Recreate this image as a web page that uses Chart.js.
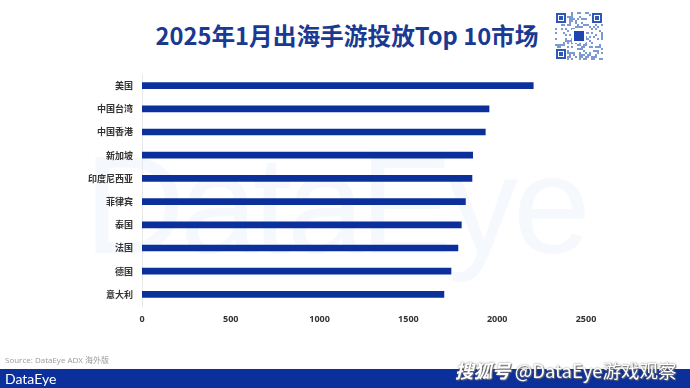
<!DOCTYPE html>
<html>
<head>
<meta charset="utf-8">
<script src="https://cdn.jsdelivr.net/npm/chart.js@4"></script>
<style>
  html,body{margin:0;padding:0;background:#fff;}
  #wrap{position:relative;width:690px;height:388px;overflow:hidden;background:#fff;font-family:"Noto Sans CJK SC","Noto Sans",sans-serif;}
  #bgmark{position:absolute;left:84px;top:135px;font-family:"Liberation Sans",sans-serif;font-size:140px;line-height:1;color:#f5f8fd;letter-spacing:-5px;}
  #title{position:absolute;left:0;width:694px;top:18px;text-align:center;font-size:23.7px;font-weight:bold;color:#1a3a92;line-height:34px;}
  #qr{position:absolute;left:555px;top:12px;width:48px;height:48px;}
  #c{position:absolute;left:0;top:0;}
  #source{position:absolute;left:5px;top:354px;font-size:8px;color:#9a9a9a;font-family:"Open Sans","Noto Sans CJK SC",sans-serif;}
  #band{position:absolute;left:0;top:369px;width:690px;height:19px;background:#0b2f9b;}
  #brand{position:absolute;left:5px;top:369px;font-size:14px;line-height:20px;color:#fff;font-family:"Lato","Noto Sans",sans-serif;}
  #wm{position:absolute;left:455px;top:357px;font-size:18.5px;line-height:26px;color:#fff;text-shadow:0 0 2px #777,1px 1px 1px #666;font-family:"Noto Sans CJK SC",sans-serif;white-space:nowrap;}
</style>
</head>
<body>
<div id="wrap">
  <div id="bgmark">DataEye</div>
  <div id="title">2025年1月出海手游投放Top 10市场</div>
  <canvas id="qr" width="48" height="48"></canvas>
  <canvas id="c" width="690" height="388"></canvas>
  <div id="source">Source: DataEye ADX 海外版</div>
  <div id="band"></div>
  <div id="brand">DataEye</div>
  <div id="wm"><b><i>搜狐号</i></b> @DataEye游戏观察</div>
</div>
<script>
const categories = ["美国","中国台湾","中国香港","新加坡","印度尼西亚","菲律宾","泰国","法国","德国","意大利"];
const values = [2203,1954,1933,1862,1858,1821,1798,1779,1740,1700];
const xTicks = [0,500,1000,1500,2000,2500];

// decorative QR-like mark
(function(){
  const q=document.getElementById('qr').getContext('2d');
  q.fillStyle='#fff';q.fillRect(0,0,48,48);
  let s=7;
  for(let y=0;y<24;y++)for(let x=0;x<24;x++){s=(s*1103515245+12345)&0x7fffffff;if(s%3===0){q.fillStyle='#7d99d3';q.fillRect(x*2,y*2,2,2);}}
  function finder(x,y){q.fillStyle='#fff';q.fillRect(x-1,y-1,12,12);q.fillStyle='#2e58b8';q.fillRect(x,y,10,10);q.fillStyle='#fff';q.fillRect(x+2,y+2,6,6);q.fillStyle='#2e58b8';q.fillRect(x+3,y+3,4,4);}
  finder(1,1);finder(37,1);finder(1,37);
  q.fillStyle='#fff';q.fillRect(17,17,14,14);q.fillStyle='#1f46b0';q.fillRect(19,19,10,10);
})();

new Chart(document.getElementById('c'), {
  type: 'bar',
  data: {
    labels: categories,
    datasets: [{
      data: values,
      backgroundColor: '#0b2f9b',
      barThickness: 6,
      categoryPercentage: 1,
      barPercentage: 1
    }]
  },
  options: {
    indexAxis: 'y',
    responsive: false,
    maintainAspectRatio: false,
    animation: false,
    devicePixelRatio: 1,
    layout: { padding: { left: 0, right: 104, top: 74, bottom: 62 } },
    plugins: { legend: { display: false }, tooltip: { enabled: false } },
    scales: {
      x: {
        min: 0, max: 2500,
        afterBuildTicks: (axis) => { axis.ticks = xTicks.map(v => ({ value: v })); },
        grid: { display: false, drawTicks: false },
        border: { display: false },
        ticks: { color: '#333', padding: 8, callback: (v) => String(v), font: { family: '"Open Sans","Noto Sans",sans-serif', size: 9, weight: 'bold' } },
        afterFit: (axis) => { axis.height = 20; }
      },
      y: {
        grid: { display: false, drawTicks: false },
        border: { display: true, color: '#e8e8e8', width: 1 },
        ticks: { color: '#333', padding: 9, font: { family: '"Noto Sans CJK SC",sans-serif', size: 9, weight: 'bold' } },
        afterFit: (axis) => { axis.width = 142; }
      }
    }
  }
});
</script>
</body>
</html>
